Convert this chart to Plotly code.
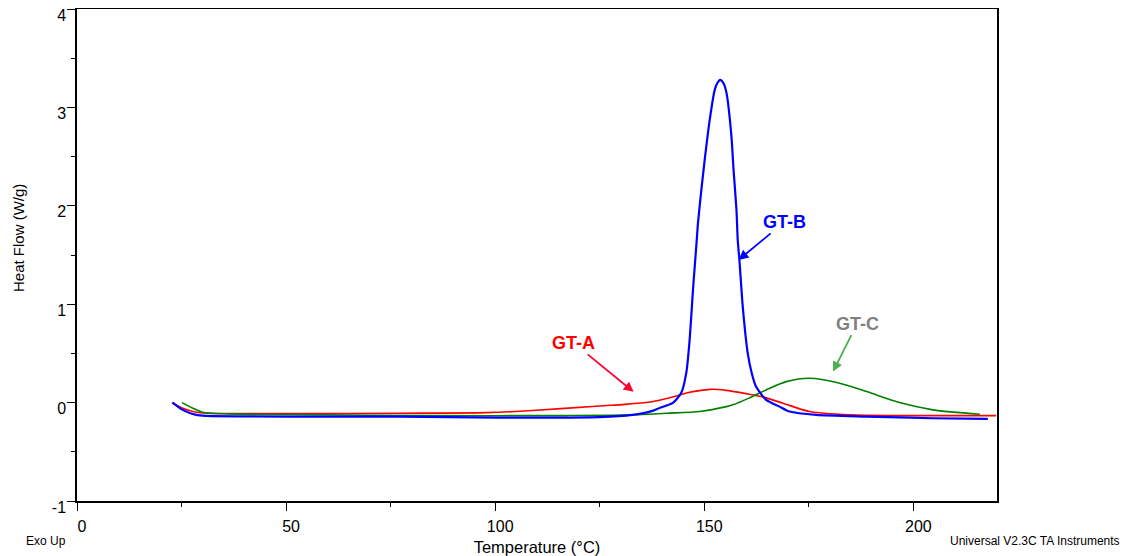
import plotly.graph_objects as go

# GT-A (red)
gta_temp = [22.7, 25.3, 28.5, 30.9, 53.2, 77.1, 97.8, 108.9, 125.0, 131.0, 137.0, 140.0, 143.3,
            146.0, 148.9, 151.3, 153.5, 155.3, 156.8, 160.8, 164.0, 168.8, 175.2, 184.8, 196.7, 219.8]
gta_flow = [0.0, -0.057, -0.098, -0.108, -0.112, -0.108, -0.102, -0.081, -0.034, -0.018, 0.006, 0.032, 0.068,
            0.100, 0.122, 0.134, 0.133, 0.124, 0.114, 0.085, 0.058, -0.006, -0.091, -0.125, -0.132, -0.132]

# GT-B (blue)
gtb_temp = [22.87, 25.26, 28.47, 30.86, 53.2, 77.1, 101.0, 124.9, 132.8, 137.6, 139.3, 142.5,
            144.5, 145.7, 146.5, 147.3, 148.2, 148.5, 149.3, 150.1, 151.3, 152.5, 153.1, 153.8,
            154.6, 155.3, 156.5, 157.0, 157.7, 158.0, 158.4, 159.2, 160.4, 161.4, 162.4, 164.8,
            168.0, 170.4, 176.8, 188.8, 204.6, 217.8]
gtb_flow = [0.0, -0.074, -0.125, -0.135, -0.142, -0.142, -0.152, -0.148, -0.125, -0.084, -0.054, -0.003,
            0.099, 0.302, 0.637, 1.145, 1.653, 1.826, 2.161, 2.466, 2.873, 3.178, 3.245, 3.28,
            3.245, 3.15, 2.703, 2.365, 1.958, 1.653, 1.45, 0.976, 0.50, 0.29, 0.16, 0.027,
            -0.041, -0.091, -0.125, -0.142, -0.159, -0.166]

# GT-C (green)
gtc_temp = [25.1, 27.7, 30.0, 36.4, 53.2, 85.0, 117.0, 132.8, 140.9, 148.9, 155.3, 156.8,
            160.8, 164.8, 169.6, 175.2, 182.4, 188.8, 196.7, 204.7, 215.9]
gtc_flow = [0.0, -0.057, -0.098, -0.115, -0.122, -0.132, -0.132, -0.125, -0.108, -0.09, -0.041, -0.023,
            0.048, 0.129, 0.213, 0.248, 0.197, 0.112, 0.0, -0.074, -0.118]

x_ticks = [0, 50, 100, 150, 200]
y_ticks = [-1, 0, 1, 2, 3, 4]

FONT = "Arial, Liberation Sans, sans-serif"

fig = go.Figure()
fig.add_trace(go.Scatter(x=gta_temp, y=gta_flow, mode="lines", name="GT-A",
                         line=dict(color="#FF0000", width=1.6, shape="spline", smoothing=0.8)))
fig.add_trace(go.Scatter(x=gtc_temp, y=gtc_flow, mode="lines", name="GT-C",
                         line=dict(color="#008000", width=1.6, shape="spline", smoothing=0.8)))
fig.add_trace(go.Scatter(x=gtb_temp, y=gtb_flow, mode="lines", name="GT-B",
                         line=dict(color="#0000FF", width=2.2, shape="spline", smoothing=0.6)))

# page body has an 8px default margin: figure is drawn from (8, 8)
OFF = 8
W, H = 1128 - OFF, 556 - OFF
L, T = 77 - OFF, 9 - OFF
R = 1128 - 997
B = 556 - 501

fig.update_layout(
    template="none",
    width=W, height=H,
    margin=dict(l=L, r=R, t=T, b=B, pad=0),
    paper_bgcolor="white", plot_bgcolor="white",
    showlegend=False,
    font=dict(family=FONT, color="black", size=16),
)

fig.update_xaxes(
    range=[0, 220], tickvals=x_ticks, ticktext=[str(v) for v in x_ticks],
    showgrid=False, zeroline=False, automargin=False,
    showline=True, linecolor="black", linewidth=1.5, mirror=True,
    ticks="outside", ticklen=8, tickwidth=1.2, tickcolor="black",
    minor=dict(dtick=25, tick0=0, ticks="outside", ticklen=4, tickwidth=1.2, tickcolor="black",
               showgrid=False),
    ticklabelshift=5, ticklabelstandoff=2, ticklabeloverflow="allow",
    tickfont=dict(family=FONT, size=16),
    title=dict(text="Temperature (°C)", font=dict(family=FONT, size=16.5), standoff=10),
)
fig.update_yaxes(
    range=[-1, 4], tickvals=y_ticks, ticktext=[str(v) for v in y_ticks],
    showgrid=False, zeroline=False, automargin=False,
    showline=True, linecolor="black", linewidth=1.5, mirror=True,
    ticks="outside", ticklen=8, tickwidth=1.2, tickcolor="black",
    minor=dict(dtick=0.5, tick0=0, ticks="outside", ticklen=4, tickwidth=1.2, tickcolor="black",
               showgrid=False),
    ticklabelshift=6, ticklabelstandoff=-2, ticklabeloverflow="allow",
    tickfont=dict(family=FONT, size=16),
)

# curve labels with arrows
fig.add_annotation(x=158.2, y=1.45, xref="x", yref="y", text="<b>GT-B</b>",
                   ax=46, ay=-38, showarrow=True, arrowhead=2, arrowsize=1.1, arrowwidth=1.8,
                   arrowcolor="#0000FF", font=dict(family=FONT, size=18, color="#0000FF"))
fig.add_annotation(x=133.1, y=0.109, xref="x", yref="y", text="<b>GT-A</b>",
                   ax=-60, ay=-49, showarrow=True, arrowhead=2, arrowsize=1.1, arrowwidth=1.8,
                   arrowcolor="#FF0033", font=dict(family=FONT, size=18, color="#FF0000"))
fig.add_annotation(x=180.8, y=0.315, xref="x", yref="y", text="<b>GT-C</b>",
                   ax=24, ay=-48, showarrow=True, arrowhead=2, arrowsize=1.1, arrowwidth=1.8,
                   arrowcolor="#4CAF50", font=dict(family=FONT, size=18, color="#808080"))

# page pixel positions converted into paper coordinates
pw = W - L - R
ph = H - T - B
def px_to_paper(px, py):
    return (px - OFF - L) / pw, (H - B - (py - OFF)) / ph

tx, ty = px_to_paper(18, 238)
fig.add_annotation(x=tx, y=ty, xref="paper", yref="paper", text="Heat Flow (W/g)", showarrow=False,
                   textangle=-90, xanchor="center", yanchor="middle",
                   font=dict(family=FONT, size=15))

ex, ey = px_to_paper(24, 541)
ux, uy = px_to_paper(1122, 541)
fig.add_annotation(x=ex, y=ey, xref="paper", yref="paper", text="Exo Up", showarrow=False,
                   xanchor="left", yanchor="middle", font=dict(family=FONT, size=12))
fig.add_annotation(x=ux, y=uy, xref="paper", yref="paper", text="Universal V2.3C TA Instruments",
                   showarrow=False, xanchor="right", yanchor="middle", font=dict(family=FONT, size=12))

fig.write_html("out.html")
